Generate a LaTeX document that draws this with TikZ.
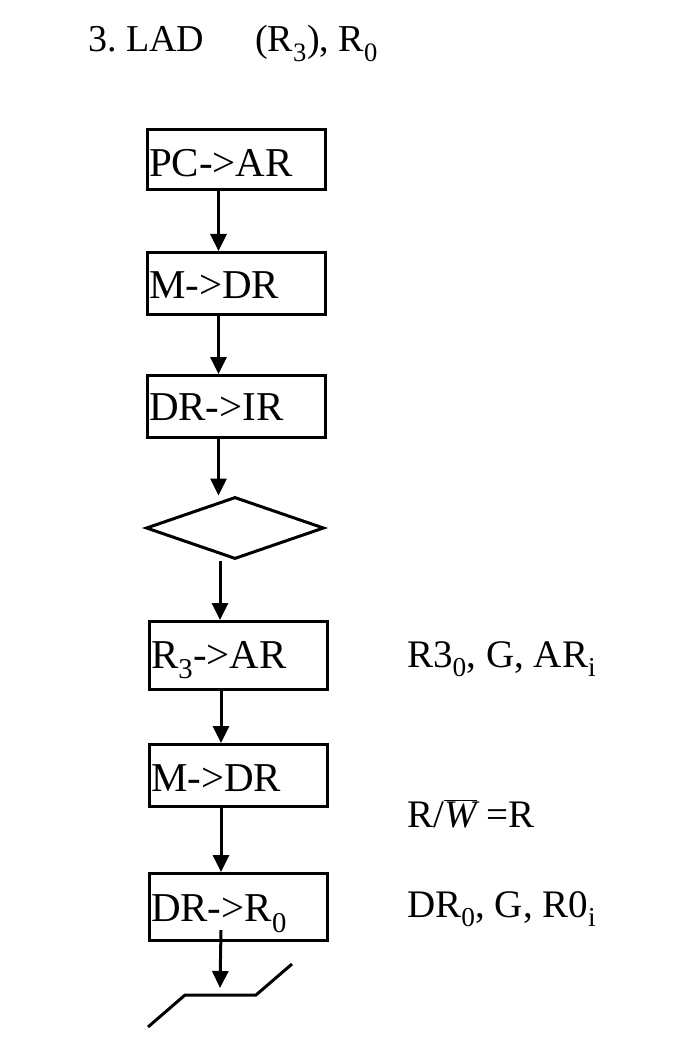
\documentclass[tikz,border=0pt]{standalone}
\usepackage{fontspec}
\setmainfont{Liberation Serif}
\usetikzlibrary{arrows.meta,shapes.geometric}
\newcommand\bxfont{\fontsize{41}{44}\selectfont}
\newcommand\ntfont{\fontsize{39}{42}\selectfont}
\newcommand\hdfont{\fontsize{38}{40}\selectfont}
\begin{document}
\begin{tikzpicture}[x=1pt,y=-1pt,
  stepbox/.style={draw,line width=3pt,rectangle,anchor=north west,
    inner xsep=1.5pt,inner ysep=0pt,text width=175pt,align=left,font=\bxfont},
  decision/.style={draw,line width=3pt,diamond,minimum width=178pt,
    minimum height=62pt,inner sep=0pt},
  arr/.style={line width=3pt,-{Triangle[length=17pt,width=16pt]}},
  note/.style={anchor=base west,inner sep=0pt,font=\ntfont},
  heading/.style={anchor=base west,inner sep=0pt,font=\hdfont}]
\useasboundingbox (0,0) rectangle (688,1040);

% heading
\node[heading] (title) at (88,52)
  {\makebox[167pt][l]{3.\ LAD}(R\textsubscript{3}), R\textsubscript{0}};

% fetch cycle
\node[stepbox,text height=47pt,text depth=13pt] (b1) at (146,128) {PC->AR};
\node[stepbox,text height=46pt,text depth=16pt] (b2) at (146,251) {M->DR};
\node[stepbox,text height=45pt,text depth=17pt] (b3) at (146,374) {DR->IR};
\node[decision] (d) at (235,528) {};

% execute cycle
\node[stepbox,text height=47pt,text depth=21pt] (b4) at (148,620) {R\textsubscript{3}->AR};
\node[stepbox,text height=47pt,text depth=15pt] (b5) at (148,743) {M->DR};
\node[stepbox,text height=48pt,text depth=19pt] (b6) at (148,872) {DR->R\textsubscript{0}};

% control signals
\node[note] (n1) at (407,667) {R3\textsubscript{0}, G, AR\textsubscript{i}};
\node[note] (n2) at (407,827) {R/\ensuremath{\overline{\mbox{\itshape W}}} =R};
\node[note] (n3) at (407,917) {DR\textsubscript{0}, G, R0\textsubscript{i}};

% end-of-instruction bar
\coordinate (e1) at (148,1027);
\coordinate (e2) at (185,995);
\coordinate (e3) at (256,995);
\coordinate (e4) at (292,964);
\coordinate (bm) at (220,995);
\draw[line width=3pt] (e1) -- (e2) -- (e3) -- (e4);

% flow arrows
\draw[arr] ([xshift=-18pt]b1.south) -- ([xshift=-18pt]b2.north);
\draw[arr] ([xshift=-18pt]b2.south) -- ([xshift=-18pt]b3.north);
\coordinate (a3) at ([xshift=-18pt]b3.south);
\draw[arr] (a3) -- (a3 |- d.north);
\coordinate (a4) at ([xshift=-15pt]d.south);
\draw[arr] (a4) -- (a4 |- b4.north);
\draw[arr] ([xshift=-17.5pt]b4.south) -- ([xshift=-17.5pt]b5.north);
\draw[arr] ([xshift=-17.5pt]b5.south) -- ([xshift=-17.5pt]b6.north);
\coordinate (a7) at ([xshift=-17.5pt,yshift=12pt]b6.south);
\coordinate (t7) at ([yshift=7pt]bm);
\draw[arr] (a7) -- (t7);
\end{tikzpicture}
\end{document}
